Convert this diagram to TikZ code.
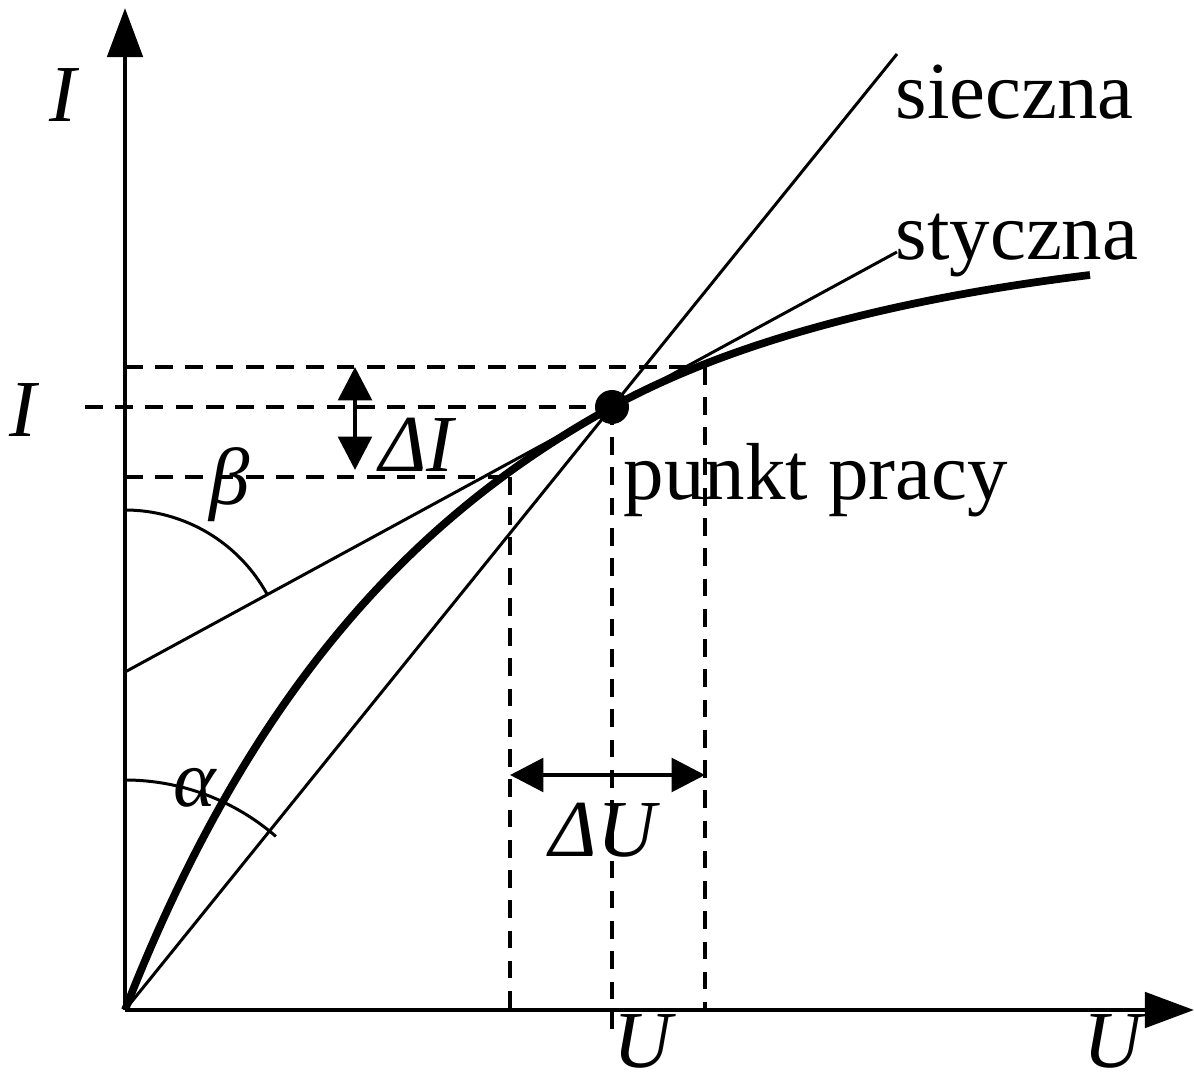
\documentclass[tikz,border=0pt]{standalone}
\usepackage{fontspec}
\setmainfont{Liberation Serif}
\usepackage{tikz}
\usetikzlibrary{arrows.meta,positioning,calc}

\begin{document}
\begin{tikzpicture}[
  x=0.01cm, y=0.01cm,
  axis/.style={line width=1.4pt, -{Triangle[length=14pt, width=10pt]}},
  thin line/.style={line width=0.85pt},
  guide/.style={line width=1.1pt, dash pattern=on 5pt off 3.6pt},
  measure/.style={line width=1.3pt, {Triangle[length=9.5pt, width=9.5pt]}-{Triangle[length=9.5pt, width=9.5pt]}},
  lbl/.style={font=\fontsize{23}{27}\selectfont, inner sep=0pt}
]
\useasboundingbox (-125,-71) rectangle (1069,1010);
% points
\coordinate (O) at (0,0);
\coordinate (P) at (487,603);
\coordinate (T0) at (0,338);
\coordinate (T1) at (772,758);
\coordinate (S1) at (772,956);
\coordinate (A) at (385,533);
\coordinate (B) at (580,643);
\coordinate (E) at (965,735);
% axes
\draw[axis] (O) -- (0,1002) coordinate (Ytip);
\draw[axis] (O) -- (1069,0) coordinate (Xtip);
% secant and tangent
\draw[thin line] (O) -- (S1);
\draw[thin line] (T0) -- (T1);
% characteristic
\draw[line width=2.2pt, line join=round]
  (O) .. controls (130,333) and (300,500) .. (P)
      .. controls (620,676) and (800,715) .. (E);
% dashed guides
\draw[guide] (0,643) -- (B);
\draw[guide] (-40,603) -- (P);
\draw[guide] (0,533) -- (A);
\draw[guide] (A) -- (385,0);
\draw[guide] (P) -- (487,-30);
\draw[guide] (B) -- (580,0);
% increments
\draw[measure] (230,643) -- (230,540);
\draw[measure] (385,235) -- (580,235);
% angles
\draw[thin line] ($(T0)+(0,162)$) arc[start angle=90, end angle=28.6, radius=162];
\draw[thin line] (0,230) arc[start angle=90, end angle=49, radius=230];
% operating point
\fill (P) circle (17);
% labels
\node[lbl] (Ilabel) at (-60,915) {\textit{I}};
\node[lbl] (Ival) at (-100,600) {\textit{I}};
\node[lbl, anchor=west] (secant) at (770,918) {sieczna};
\node[lbl, anchor=west] (tangent) at (770,765) {styczna};
\node[lbl, anchor=west] (work) at (498,530) {punkt pracy};
\node[lbl] (dI) at (293,565) {\textit{ΔI}};
\node[lbl] (beta) at (105,525) {\textit{β}};
\node[lbl] (alpha) at (70,222) {\textit{α}};
\node[lbl] (dU) at (480,180) {\textit{ΔU}};
\node[lbl] (Uval) at (520,-31) {\textit{U}};
\node[lbl] (Ulabel) at (990,-31) {\textit{U}};
\end{tikzpicture}
\end{document}
